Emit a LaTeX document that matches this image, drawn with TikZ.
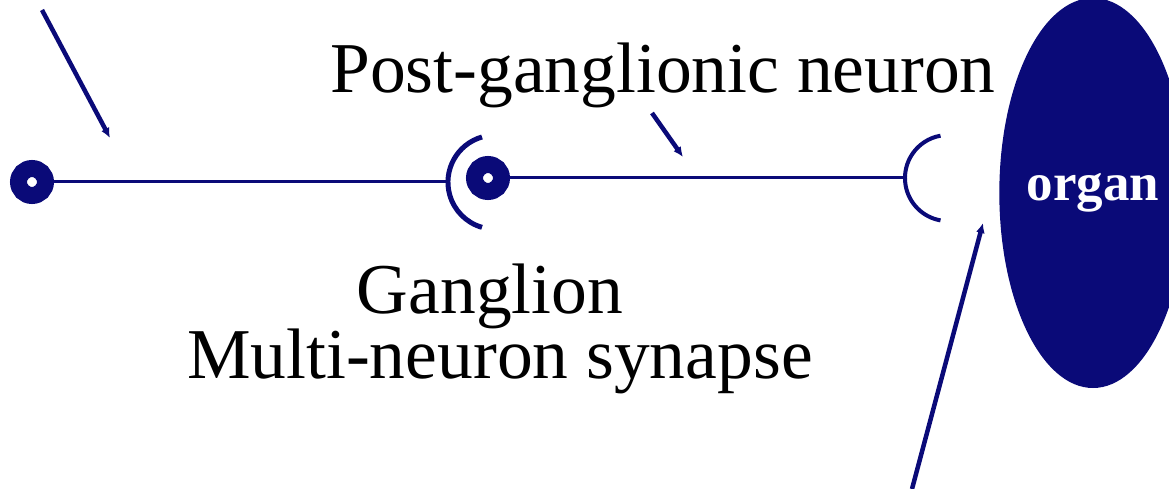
\documentclass[tikz,border=0pt]{standalone}
\usepackage{fontspec}
\setmainfont{Liberation Serif}
\usetikzlibrary{positioning}
\usetikzlibrary{shapes.geometric, arrows.meta}

\definecolor{nerve}{RGB}{10,10,120}

\tikzset{
  soma/.style={circle, draw=nerve, fill=white, line width=17pt, minimum size=27pt, inner sep=0pt},
  fibre/.style={draw=nerve, line width=3pt},
  pointer/.style={draw=nerve, line width=4.5pt, -{Latex[length=10pt,width=9pt]}},
  label/.style={font=\fontsize{71.5}{72}\selectfont, inner sep=0pt}
}

\begin{document}
\begin{tikzpicture}[x=1pt,y=-1pt]
        \useasboundingbox (0,0) rectangle (1169,489);

        \node (PreSoma)[soma] at (32,182) {};
        \node (PostSoma)[soma] at (488,178) {};
        \node (Organ)[ellipse, fill=nerve, minimum width=152pt, minimum height=390pt, inner sep=0pt,
              text=white, font=\fontsize{53}{53}\selectfont\bfseries] at (1093,193) {organ};

        \coordinate (GangSyn) at (448,182);
        \coordinate (OrganSyn) at (905,178);

        \draw [fibre] (PreSoma) -- (GangSyn);
        \draw [fibre] (PostSoma) -- (OrganSyn);

        % synapse cups
        \draw [draw=nerve, line width=5pt] (GangSyn) ++(34pt,45pt) arc[start angle=106, end angle=254, radius=47pt];
        \draw [draw=nerve, line width=4pt] (OrganSyn) ++(35.5pt,42.3pt) arc[start angle=100, end angle=260, radius=43pt];

        \node (Post)[label, anchor=base] at (663,93) {Post-ganglionic neuron};
        \node (Gang)[label, anchor=base] at (490,313) {Ganglion};
        \node (Multi)[label, anchor=base] at (500,378) {Multi-neuron synapse};

        \coordinate (PreTail) at (42,10);
        \coordinate (PreTip) at (110,138);
        \coordinate (PostTail) at (652,113);
        \coordinate (PostTip) at (683,157);
        \coordinate (GapTail) at (912,489);
        \coordinate (GapTip) at (983,223);

        \draw [pointer] (PreTail) -- (PreTip);
        \draw [pointer] (PostTail) -- (PostTip);
        \draw [pointer] (GapTail) -- (GapTip);
\end{tikzpicture}
\end{document}
